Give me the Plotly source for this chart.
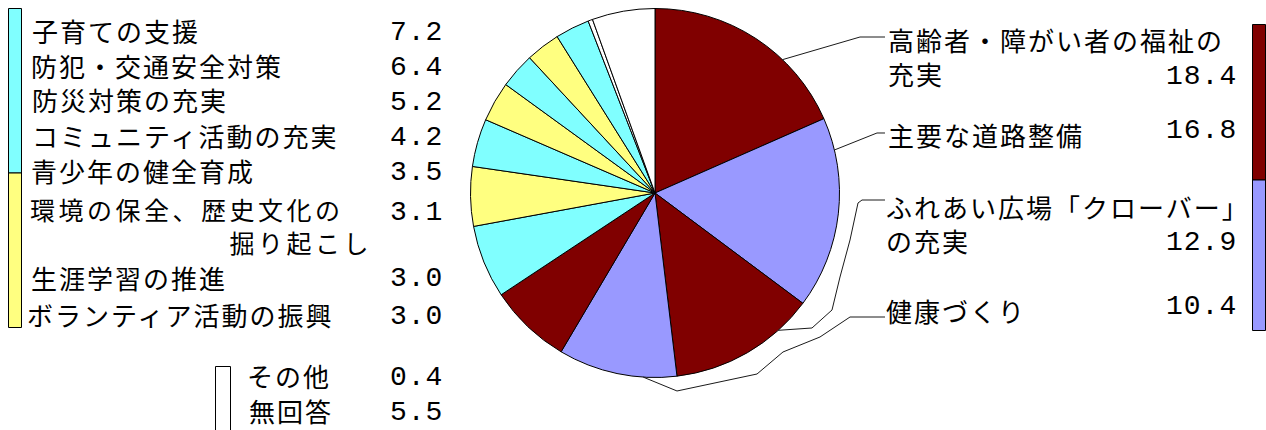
import math
import plotly.graph_objects as go

W, H = 1266, 430

# survey categories in pie order (clockwise from 12 o'clock)
categories = [
    "高齢者・障がい者の福祉の\n充実",
    "主要な道路整備",
    "ふれあい広場「クローバー」\nの充実",
    "健康づくり",
    "子育ての支援",
    "防犯・交通安全対策",
    "防災対策の充実",
    "コミュニティ活動の充実",
    "青少年の健全育成",
    "環境の保全、歴史文化の\n\u3000\u3000\u3000\u3000\u3000\u3000\u3000掘り起こし",
    "生涯学習の推進",
    "ボランティア活動の振興",
    "その他",
    "無回答",
]
values = [18.4, 16.8, 12.9, 10.4, 7.2, 6.4, 5.2, 4.2, 3.5, 3.1, 3.0, 3.0, 0.4, 5.5]

DARK_RED = "#800000"
LAVENDER = "#9999FF"
CYAN = "#80FFFF"
YELLOW = "#FFFF80"
WHITE = "#FFFFFF"
slice_colors = [DARK_RED, LAVENDER, DARK_RED, LAVENDER, DARK_RED, CYAN, YELLOW,
                CYAN, YELLOW, CYAN, YELLOW, CYAN, WHITE, WHITE]

# pie geometry in pixels
CX, CY, R = 655.0, 193.0, 184.5

JP_FONT = "Noto Sans CJK JP"
NUM_FONT = "Liberation Mono"
FS = 26


def px(x):
    return x / W


def py(y):
    return 1 - y / H


def spaced(s, gap):
    return f'<span style="letter-spacing:{gap}px">' + s + "</span>"


fig = go.Figure()
fig.add_trace(go.Pie(
    labels=[c.replace("\n", "").replace("\u3000", "") for c in categories],
    values=values,
    sort=False,
    direction="clockwise",
    rotation=0,
    marker=dict(colors=slice_colors, line=dict(color="#000000", width=1)),
    textinfo="none",
    hoverinfo="label+value",
    showlegend=False,
    domain=dict(x=[px(CX - R), px(CX + R)], y=[py(CY + R), py(CY - R)]),
))

annotations = []
shapes = []


def text(x, y, s, font=JP_FONT, size=FS, anchor="left", gap=2):
    annotations.append(dict(
        x=px(x), y=py(y), xref="paper", yref="paper",
        text=spaced(s.replace("\n", "<br>"), gap) if gap else s.replace("\n", "<br>"),
        showarrow=False, xanchor=anchor, yanchor="middle", align="left",
        font=dict(family=font, size=size, color="#000000"),
        borderpad=0,
    ))


def number(x, y, v):
    text(x, y, f"{v:.1f}", font=NUM_FONT, size=28, anchor="right", gap=1)


# left-hand list: label position (x, y), font size, letter gap and value row
left_layout = {
    4: ((31, 30), FS, 2, 32),
    5: ((30, 65), FS, 2, 67),
    6: ((31, 100), FS, 2, 102),
    7: ((31, 135), FS, 2, 137),
    8: ((30, 170), FS, 2, 172),
    9: ((29, 225), 25, 3.5, 212),
    10: ((30, 277), FS, 2, 278),
    11: ((26, 314), FS, 2, 316),
    12: ((246, 375), FS, 2, 377),
    13: ((248, 410), FS, 2, 412),
}
for i, ((x, y), size, gap, vy) in left_layout.items():
    text(x, y, categories[i], size=size, gap=gap)
    number(444, vy, values[i])

# right-hand labels
right_layout = {
    0: ((887, 57), 77),
    1: ((887, 134), 130),
    2: ((885, 223), 242),
    3: ((885, 310), 306),
}
for i, ((x, y), vy) in right_layout.items():
    text(x, y, categories[i])
    number(1238, vy, values[i])

# leader lines: start on the rim of each slice, then bend out to the label
total = sum(values)
cum = [sum(values[:i]) for i in range(len(values))]
leader_attach = [0.66, 0.17, 0.245, 0.28]
leader_bends = [
    [(860, 37), (885, 37)],
    [(877, 133), (885, 133)],
    [(812, 328), (832, 310), (840, 277), (850, 240), (858, 203), (862, 200), (885, 200)],
    [(677, 391), (757, 374), (783, 352), (820, 337), (850, 317), (885, 317)],
]
for i, (f, bends) in enumerate(zip(leader_attach, leader_bends)):
    ang = 2 * math.pi * (cum[i] + f * values[i]) / total
    sx, sy = CX + R * math.sin(ang), CY - R * math.cos(ang)
    pts = [(sx, sy)] + bends
    path = "M " + " L ".join(f"{px(x):.5f},{py(y):.5f}" for x, y in pts)
    shapes.append(dict(type="path", path=path, xref="paper", yref="paper",
                       line=dict(color="#1a1a1a", width=1)))


def rect(x0, y0, x1, y1, color):
    shapes.append(dict(type="rect", xref="paper", yref="paper",
                       x0=px(x0), x1=px(x1), y0=py(y1), y1=py(y0),
                       fillcolor=color, line=dict(color="#000000", width=1)))


# group bars
rect(8.5, 8.5, 21.5, 173, CYAN)
rect(8.5, 173, 21.5, 327.5, YELLOW)
rect(1252.5, 24.5, 1265.5, 180, DARK_RED)
rect(1252.5, 180, 1265.5, 330.5, LAVENDER)
rect(215.5, 366.5, 230.5, 432, WHITE)

fig.update_layout(
    width=W, height=H,
    margin=dict(l=0, r=0, t=0, b=0),
    paper_bgcolor="#FFFFFF",
    plot_bgcolor="#FFFFFF",
    annotations=annotations,
    shapes=shapes,
)

fig.write_html("out.html")
